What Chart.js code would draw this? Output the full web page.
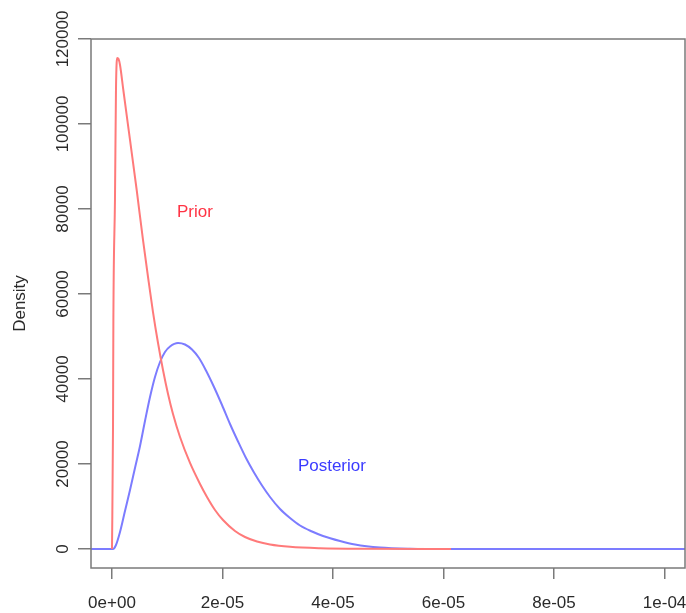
<!DOCTYPE html>
<html>
<head>
<meta charset="utf-8">
<script src="https://cdn.jsdelivr.net/npm/chart.js@4"></script>
<style>
  html, body { margin: 0; padding: 0; background: #fff; }
  #c { display: block; }
</style>
</head>
<body>
<canvas id="c" width="686" height="613"></canvas>
<script>
// ---- data (x in units of 1e-6) ----
const priorX = [0, 0.18, 0.25, 0.54, 0.72, 0.96, 1.18, 1.45, 2.05, 3.26, 4.47, 5.61, 6.52, 7.42, 8.33, 9.23, 10.14, 11.04, 12.31, 14.12, 15.93, 17.19, 18.64, 20.09, 22.26, 24.07, 26.24, 28.6, 32.22, 37.65, 44.89, 61.36];
const priorY = [0, 28000, 53880, 82350, 108000, 115530, 115300, 113880, 108000, 96240, 84470, 72710, 64000, 55760, 48470, 42120, 36470, 31760, 26350, 20240, 15290, 12240, 9180, 6820, 4240, 2820, 1760, 1060, 520, 190, 50, 0];
const postX = [-3.8, 0, 0.18, 0.72, 1.45, 2.35, 3.26, 4.16, 5.07, 5.97, 6.88, 7.78, 8.69, 9.59, 10.5, 11.95, 13.21, 14.48, 15.75, 17.01, 18.46, 19.91, 21.36, 22.81, 24.25, 25.7, 27.15, 28.6, 30.41, 32.22, 34.03, 36.2, 38.19, 41.27, 43.98, 48.51, 53.94, 61.18, 103.7];
const postY = [0, 0, 0, 941, 4000, 8940, 13880, 19060, 24240, 30120, 35760, 40470, 44000, 46350, 47650, 48470, 48120, 46940, 44940, 42000, 38120, 33880, 29410, 25290, 21410, 18000, 14940, 12240, 9410, 7290, 5530, 4120, 3060, 1880, 1060, 350, 70, 0, 0];

const xTickValues = [0, 2e-5, 4e-5, 6e-5, 8e-5, 1e-4];
const xTickLabels = ['0e+00', '2e-05', '4e-05', '6e-05', '8e-05', '1e-04'];
const yTickValues = [0, 20000, 40000, 60000, 80000, 100000, 120000];
const yTickLabels = ['0', '20000', '40000', '60000', '80000', '100000', '120000'];

const seriesNames = ['Prior', 'Posterior'];
const labelX = [15.0e-6, 39.8e-6];
const labelY = [79300, 19500];

const FONT = '"Liberation Sans", Arial, sans-serif';
const LINE_COL = '#7a7a7a';
const TEXT_COL = '#2a2a2a';

const toPts = (xs, ys) => xs.map((x, i) => ({ x: x * 1e-6, y: ys[i] }));

const boxAndLabels = {
  id: 'boxAndLabels',
  afterDraw(chart) {
    const { ctx, chartArea: a, scales } = chart;
    ctx.save();
    ctx.strokeStyle = LINE_COL;
    ctx.lineWidth = 1.5;
    ctx.strokeRect(a.left, a.top, a.right - a.left, a.bottom - a.top);
    // rotated y tick labels
    ctx.fillStyle = TEXT_COL;
    ctx.font = '17px ' + FONT;
    ctx.textAlign = 'center';
    ctx.textBaseline = 'middle';
    yTickValues.forEach((v, i) => {
      const py = scales.y.getPixelForValue(v);
      ctx.save();
      ctx.translate(63, py);
      ctx.rotate(-Math.PI / 2);
      ctx.fillText(yTickLabels[i], 0, 0);
      ctx.restore();
    });
    // curve labels
    const cols = ['#ff3344', '#3b3bff'];
    seriesNames.forEach((n, i) => {
      ctx.fillStyle = cols[i];
      ctx.fillText(n, scales.x.getPixelForValue(labelX[i]), scales.y.getPixelForValue(labelY[i]));
    });
    ctx.restore();
  }
};

new Chart(document.getElementById('c'), {
  type: 'line',
  data: {
    datasets: [
      { label: seriesNames[0], data: toPts(priorX, priorY), borderColor: '#ff7a7a', borderWidth: 2, pointRadius: 0, cubicInterpolationMode: 'monotone', fill: false },
      { label: seriesNames[1], data: toPts(postX, postY), borderColor: '#7c7cff', borderWidth: 2, pointRadius: 0, cubicInterpolationMode: 'monotone', fill: false }
    ]
  },
  options: {
    responsive: false,
    animation: false,
    layout: { padding: { top: 39, right: 1, left: 0, bottom: 0 } },
    plugins: { legend: { display: false }, tooltip: { enabled: false } },
    scales: {
      x: {
        type: 'linear',
        min: -3.8e-6,
        max: 1.037e-4,
        afterBuildTicks: s => { s.ticks = xTickValues.map(v => ({ value: v })); },
        afterFit: s => { s.height = 45; s.paddingLeft = 0; s.paddingRight = 0; },
        grid: { drawOnChartArea: false, drawTicks: true, tickLength: 11, color: LINE_COL, lineWidth: 1.5 },
        border: { display: false },
        ticks: {
          autoSkip: false, maxRotation: 0, minRotation: 0, padding: 14,
          color: TEXT_COL, font: { family: FONT, size: 17 },
          callback: (v) => { const i = xTickValues.indexOf(v); return i >= 0 ? xTickLabels[i] : ''; }
        }
      },
      y: {
        type: 'linear',
        min: -4470,
        max: 120000,
        afterBuildTicks: s => { s.ticks = yTickValues.map(v => ({ value: v })); },
        afterFit: s => { s.width = 91; s.paddingTop = 0; s.paddingBottom = 0; },
        grid: { drawOnChartArea: false, drawTicks: true, tickLength: 13, color: LINE_COL, lineWidth: 1.5 },
        border: { display: false },
        ticks: { display: false },
        title: { display: true, text: 'Density', color: TEXT_COL, font: { family: FONT, size: 17 }, padding: { top: 10, bottom: 0 } }
      }
    }
  },
  plugins: [boxAndLabels]
});
</script>
</body>
</html>
